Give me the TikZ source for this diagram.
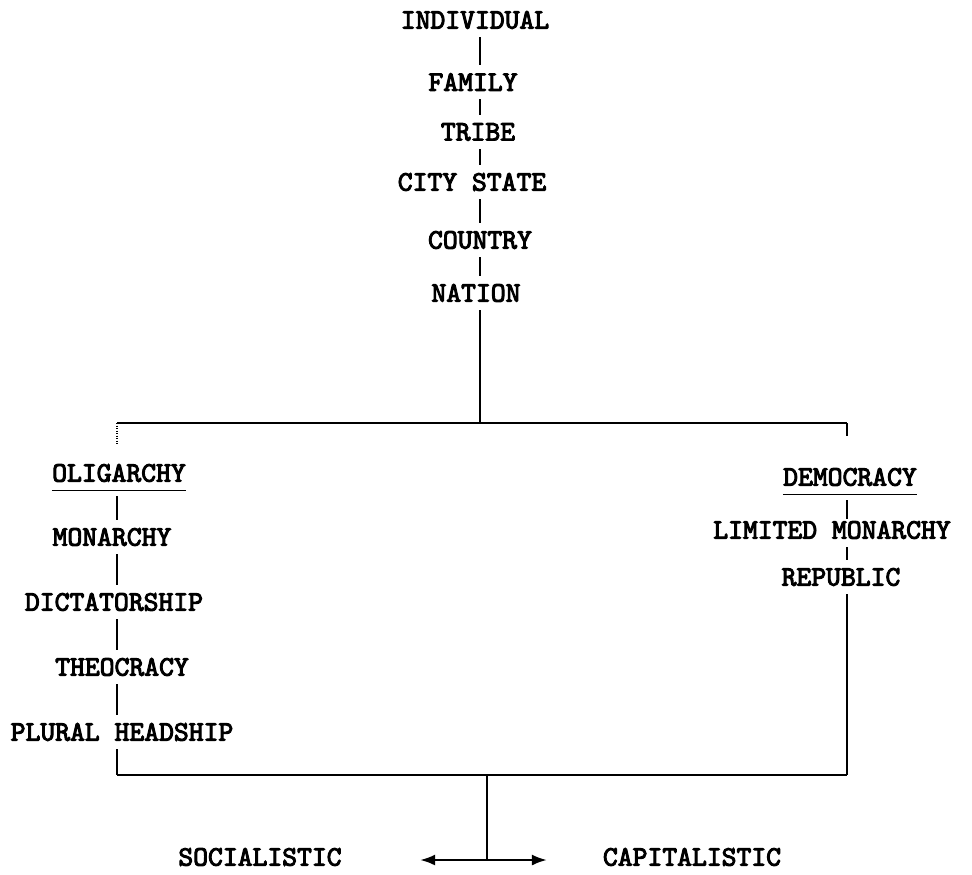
\documentclass[tikz,border=0pt]{standalone}
\usepackage{fontspec}
\setmonofont{lmmono10-regular.otf}[BoldFont = lmmono10-regular.otf, BoldFeatures = {FakeBold = 3.5}]
\usetikzlibrary{arrows.meta}

\begin{document}
\begin{tikzpicture}[x = 0.025cm, y = -0.025cm,
	label/.style = {inner sep = 0pt, font = \ttfamily\bfseries\fontsize{20.1}{22}\selectfont},
	link/.style = {line width = 1.4pt, shorten < = 0.2cm, shorten > = 0.2cm},
	bar/.style = {line width = 1.4pt}]
	\useasboundingbox (0, 0) rectangle (972, 874);

	\node[label] (ind) at (475, 20) {INDIVIDUAL};
	\node[label] (fam) at (473, 82) {FAMILY};
	\node[label] (tri) at (478, 132) {TRIBE};
	\node[label] (cit) at (472, 182) {CITY STATE};
	\node[label] (cou) at (480, 240) {COUNTRY};
	\node[label] (nat) at (476, 293) {NATION};

	\node[label] (oli) at (119, 473) {OLIGARCHY};
	\node[label] (mon) at (112, 537) {MONARCHY};
	\node[label] (dic) at (114, 602) {DICTATORSHIP};
	\node[label] (the) at (122, 667) {THEOCRACY};
	\node[label] (plu) at (122, 732) {PLURAL HEADSHIP};

	\node[label] (dem) at (850, 477) {DEMOCRACY};
	\node[label] (lim) at (832, 530) {LIMITED MONARCHY};
	\node[label] (rep) at (841, 577) {REPUBLIC};

	\node[label] (soc) at (260, 857) {SOCIALISTIC};
	\node[label] (cap) at (692, 857) {CAPITALISTIC};

	\coordinate (spine) at (480, 0);
	\coordinate (tl) at (117, 423);
	\coordinate (tm) at (480, 423);
	\coordinate (tr) at (847, 423);
	\coordinate (bl) at (117, 775);
	\coordinate (bm) at (487, 775);
	\coordinate (br) at (847, 775);
	\coordinate (fork) at (487, 860);
	\coordinate (ltip) at (420, 860);
	\coordinate (rtip) at (547, 860);

	\draw[link] (ind.south -| spine) -- (fam.north -| spine);
	\draw[link] (fam.south -| spine) -- (tri.north -| spine);
	\draw[link] (tri.south -| spine) -- (cit.north -| spine);
	\draw[link] (cit.south -| spine) -- (cou.north -| spine);
	\draw[link] (cou.south -| spine) -- (nat.north -| spine);
	\draw[link, shorten > = 0cm] (nat.south -| spine) -- (tm);

	\draw[bar] (tl) -- (tr);
	\draw[line width = 0.8pt, densely dotted, shorten > = 0.5cm] (tl) -- (oli.north -| tl);
	\draw[bar, shorten > = 0.8cm] (tr) -- (dem.north -| tr);

	\draw[line width = 0.9pt] ([yshift = -0.2cm] oli.south west) -- ([yshift = -0.2cm] oli.south east);
	\draw[line width = 0.9pt] ([yshift = -0.2cm] dem.south west) -- ([yshift = -0.2cm] dem.south east);

	\draw[link, shorten < = 0.35cm] (oli.south -| tl) -- (mon.north -| tl);
	\draw[link] (mon.south -| tl) -- (dic.north -| tl);
	\draw[link] (dic.south -| tl) -- (the.north -| tl);
	\draw[link] (the.south -| tl) -- (plu.north -| tl);
	\draw[link, shorten > = 0cm] (plu.south -| tl) -- (bl);

	\draw[link, shorten < = 0.35cm, shorten > = 0.05cm] (dem.south -| tr) -- (lim.north -| tr);
	\draw[link] (lim.south -| tr) -- (rep.north -| tr);
	\draw[link, shorten > = 0cm] (rep.south -| tr) -- (br);

	\draw[bar] (bl) -- (br);
	\draw[bar] (bm) -- (fork);
	\draw[line width = 1.8pt, -{Latex[length = 0.38cm, width = 0.28cm]}] (fork) -- (ltip);
	\draw[line width = 1.8pt, -{Latex[length = 0.38cm, width = 0.28cm]}] (fork) -- (rtip);
\end{tikzpicture}
\end{document}
